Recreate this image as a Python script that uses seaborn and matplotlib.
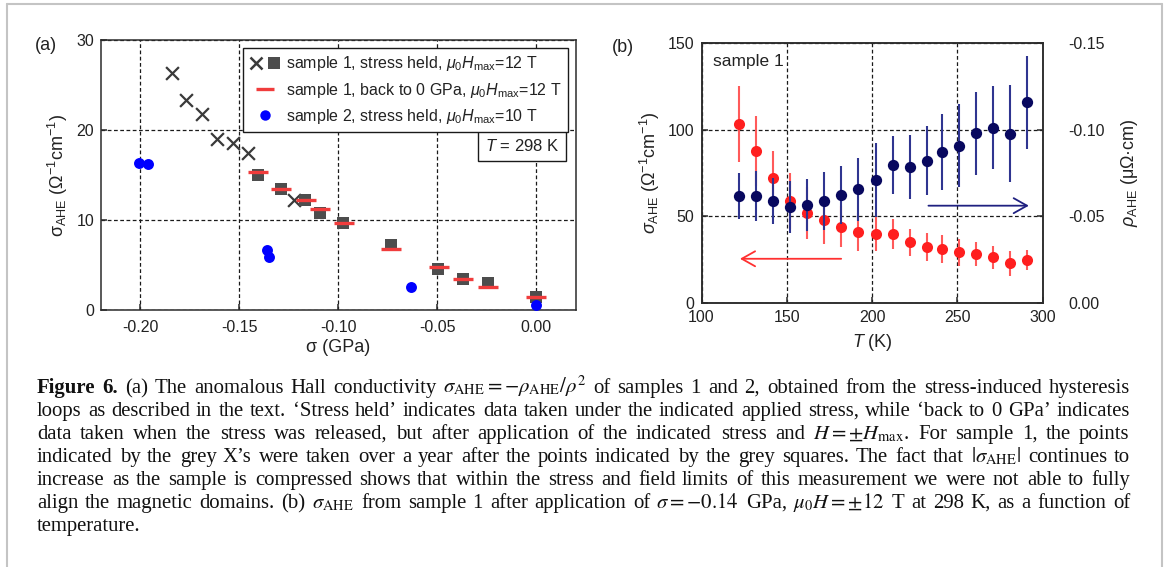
import matplotlib
matplotlib.use("Agg")
import matplotlib.pyplot as plt
import seaborn as sns
from matplotlib.lines import Line2D
from matplotlib.legend_handler import HandlerTuple

# ---- panel (a): sigma_AHE vs applied stress, T = 298 K
x_cross = [-0.184, -0.1766, -0.1687, -0.161, -0.1529, -0.1455, -0.1221]
y_cross = [26.3, 23.3, 21.8, 19.0, 18.6, 17.5, 12.2]
x_square = [-0.1406, -0.1288, -0.1168, -0.109, -0.0974, -0.0731, -0.0496, -0.0367, -0.0245, 0.0]
y_square = [15.0, 13.4, 12.2, 10.8, 9.7, 7.2, 4.6, 3.4, 3.0, 1.5]
x_back = [-0.1406, -0.1288, -0.1164, -0.109, -0.097, -0.0731, -0.0492, -0.037, -0.0245, 0.0]
y_back = [15.3, 13.4, 12.2, 11.2, 9.7, 6.8, 4.8, 3.5, 2.6, 1.5]
x_s2 = [-0.2008, -0.1962, -0.1358, -0.1349, -0.0634, 0.0]
y_s2 = [16.3, 16.2, 6.7, 5.9, 2.6, 0.55]
xticks_a = [-0.20, -0.15, -0.10, -0.05, 0.00]
xticklabels_a = ["-0.20", "-0.15", "-0.10", "-0.05", "0.00"]
legend_a = [r"sample 1, stress held, $\mu_0H_\mathrm{max}$=12 T",
            r"sample 1, back to 0 GPa, $\mu_0H_\mathrm{max}$=12 T",
            r"sample 2, stress held, $\mu_0H_\mathrm{max}$=10 T"]

# ---- panel (b): sample 1 vs temperature
temps = [122, 132, 142, 152, 162, 172, 182, 192, 202, 212, 222, 232, 241, 251, 261, 271, 281, 291]
sigma_ahe = [103.3, 87.7, 71.9, 58.8, 52.0, 47.8, 44.0, 41.0, 39.7, 39.7, 34.9, 32.4,
             31.0, 29.1, 28.1, 26.2, 22.7, 24.7]
sigma_err = [22, 20, 16, 16, 15, 14, 12, 11, 10, 8.5, 8, 8, 8, 8, 7, 6.5, 7, 6]
rho_ahe = [-0.0617, -0.0617, -0.0586, -0.0551, -0.0565, -0.0588, -0.0623, -0.0655, -0.0709,
           -0.0796, -0.0783, -0.0821, -0.0873, -0.0908, -0.0979, -0.1012, -0.0976, -0.1159]
rho_err = [0.0133, 0.0145, 0.0133, 0.015, 0.015, 0.017, 0.017, 0.018, 0.0215, 0.017,
           0.0185, 0.02, 0.022, 0.024, 0.024, 0.024, 0.028, 0.027]
rticks_b = [0.0, -0.05, -0.10, -0.15]
rticklabels_b = ["0.00", "-0.05", "-0.10", "-0.15"]

caption = [
    r"Figure 6. (a) The anomalous Hall conductivity $\sigma_{\mathrm{AHE}}=-\rho_{\mathrm{AHE}}/\rho^2$ of samples 1 and 2, obtained from the stress-induced hysteresis",
    "loops as described in the text. \u2018Stress held\u2019 indicates data taken under the indicated applied stress, while \u2018back to 0 GPa\u2019 indicates",
    r"data taken when the stress was released, but after application of the indicated stress and $H=\pm{H}_{\mathrm{max}}$. For sample 1, the points",
    "indicated by the grey X\u2019s were taken over a year after the points indicated by the grey squares. The fact that $|\\sigma_{\\mathrm{AHE}}|$ continues to",
    "increase as the sample is compressed shows that within the stress and field limits of this measurement we were not able to fully",
    r"align the magnetic domains. (b) $\sigma_{\mathrm{AHE}}$ from sample 1 after application of $\sigma=-0.14$ GPa, $\mu_0H=\pm12$ T at 298 K, as a function of",
    "temperature.",
]

sns.set_theme(style="white")
plt.rcParams.update({
    "font.family": ["Liberation Sans", "DejaVu Sans"],
    "mathtext.fontset": "custom",
    "mathtext.rm": "Liberation Sans",
    "mathtext.it": "Liberation Sans:italic",
    "mathtext.bf": "Liberation Sans:bold",
    "axes.unicode_minus": False,
    "axes.edgecolor": "#2b2b2b",
    "axes.linewidth": 1.1,
    "xtick.bottom": True, "ytick.left": True,
    "xtick.direction": "in", "ytick.direction": "in",
    "xtick.color": "#2b2b2b", "ytick.color": "#2b2b2b",
    "xtick.labelcolor": "#222222", "ytick.labelcolor": "#222222",
    "xtick.major.size": 4, "ytick.major.size": 4,
    "xtick.major.width": 1.1, "ytick.major.width": 1.1,
    "text.color": "#222222", "axes.labelcolor": "#222222",
})

W, H = 1167, 567
fig = plt.figure(figsize=(W / 100, H / 100), dpi=100)
fig.patch.set_facecolor("white")
axa = fig.add_axes([100.5 / W, 1 - 310 / H, 475.1 / W, 270 / H])
axb = fig.add_axes([701.5 / W, 1 - 302.7 / H, 341.2 / W, 259.4 / H])

grid_kw = dict(color="#1a1a1a", lw=0.9, ls=(0, (3, 2)))
gray_x, gray_s, red_a, blue_a = "#3a3a3a", "#4d4d4d", "#f03c3c", "#0000ff"

# ---------------- (a)
sns.scatterplot(x=x_cross, y=y_cross, ax=axa, marker="x", s=85, color=gray_x, linewidth=1.6, zorder=3)
sns.scatterplot(x=x_square, y=y_square, ax=axa, marker="s", s=75, color=gray_s, linewidth=0, zorder=3)
sns.scatterplot(x=x_back, y=y_back, ax=axa, marker="_", s=190, color=red_a, linewidth=2.4, zorder=4)
sns.scatterplot(x=x_s2, y=y_s2, ax=axa, marker="o", s=62, color=blue_a, linewidth=0, zorder=5)
axa.set_xlim(-0.22, 0.02)
axa.set_ylim(0, 30)
axa.set_xticks(xticks_a)
axa.set_xticklabels(xticklabels_a)
axa.set_yticks([0, 10, 20, 30])
axa.grid(True, **grid_kw)
axa.tick_params(axis="x", labelsize=11.5, pad=7)
axa.tick_params(axis="y", labelsize=11.5, pad=4.5)
axa.set_xlabel("σ (GPa)", fontsize=13, labelpad=3)
axa.set_ylabel(r"σ$_\mathrm{AHE}$ (Ω$^{-1}$cm$^{-1}$)", fontsize=13, labelpad=5)

h1 = (Line2D([], [], marker="x", ls="none", color=gray_x, markersize=8.5, mew=1.8),
      Line2D([], [], marker="s", ls="none", color=gray_s, markersize=8.4, mew=0))
h2 = Line2D([], [], marker="_", ls="none", color=red_a, markersize=13, mew=2.4)
h3 = Line2D([], [], marker="o", ls="none", color=blue_a, markersize=7.5, mew=0)
leg = axa.legend([h1, h2, h3], legend_a, loc="upper right", fontsize=11.5,
                 handler_map={tuple: HandlerTuple(ndivide=None, pad=0.3)},
                 frameon=True, fancybox=False, edgecolor="#1a1a1a", framealpha=1,
                 borderaxespad=0.5, borderpad=0.4, handlelength=1.9,
                 handletextpad=0.35, labelspacing=0.45)
leg.get_frame().set_linewidth(1.0)
leg.set_zorder(10)
axa.text(0.966, 0.607, r"$T$ = 298 K", transform=axa.transAxes, ha="right", va="center",
         fontsize=12, zorder=10,
         bbox=dict(boxstyle="square,pad=0.4", fc="white", ec="#1a1a1a", lw=1.0))

# ---------------- (b)
red_b, red_e = "#ff1f1f", "#ff5a5a"
navy_b, navy_e = "#08085f", "#2f3590"
axb.errorbar(temps, sigma_ahe, yerr=sigma_err, fmt="none", ecolor=red_e, elinewidth=1.5, capsize=0, zorder=2)
sns.scatterplot(x=temps, y=sigma_ahe, ax=axb, marker="o", s=64, color=red_b, linewidth=0, zorder=3)
axb.set_xlim(100, 300)
axb.set_ylim(0, 150)
axb.set_xticks([100, 150, 200, 250, 300])
axb.set_yticks([0, 50, 100, 150])
axb.grid(True, **grid_kw)
axb.tick_params(axis="x", labelsize=11.5, pad=5.5)
axb.tick_params(axis="y", labelsize=11.5, pad=5)
axb.set_xlabel(r"$T$ (K)", fontsize=13, labelpad=5)
axb.set_ylabel(r"$\sigma_\mathrm{AHE}$ (Ω$^{-1}$cm$^{-1}$)", fontsize=13, labelpad=4)
axb.annotate("", xy=(120.9, 25.4), xytext=(183.5, 25.4),
             arrowprops=dict(arrowstyle="->,head_length=0.8,head_width=0.45", color="#ff3030", lw=1.3))
axb.text(0.035, 0.93, "sample 1", transform=axb.transAxes, ha="left", va="center", fontsize=12.5)

axr = axb.twinx()
axr.errorbar(temps, rho_ahe, yerr=rho_err, fmt="none", ecolor=navy_e, elinewidth=1.5, capsize=0, zorder=2)
sns.scatterplot(x=temps, y=rho_ahe, ax=axr, marker="o", s=66, color=navy_b, linewidth=0, zorder=3)
axr.set_ylim(0, -0.15)
axr.set_yticks(rticks_b)
axr.set_yticklabels(rticklabels_b)
axr.grid(False)
axr.tick_params(axis="y", right=True, direction="in", labelsize=11.5, pad=18.5)
axr.set_ylabel(r"$\rho_\mathrm{AHE}$ (μΩ·cm)", fontsize=13, labelpad=10)
axr.annotate("", xy=(293.5, -0.0561), xytext=(231.4, -0.0561),
             arrowprops=dict(arrowstyle="->,head_length=0.8,head_width=0.45", color="#1f2080", lw=1.3))

fig.text(46 / W, 1 - 45 / H, "(a)", ha="center", va="center", fontsize=13)
fig.text(623 / W, 1 - 48 / H, "(b)", ha="center", va="center", fontsize=13)

# page border
bc = "#c4c4c4"
fig.add_artist(Line2D([7 / W, 7 / W], [0, 1 - 4 / H], transform=fig.transFigure, color=bc, lw=1.5))
fig.add_artist(Line2D([7 / W, 1162 / W], [1 - 4 / H, 1 - 4 / H], transform=fig.transFigure, color=bc, lw=1.5))
fig.add_artist(Line2D([1162 / W, 1162 / W], [0, 1 - 4 / H], transform=fig.transFigure, color=bc, lw=1.5))

# caption, justified between x0 and x1
x0, x1, y0, dy = 37, 1130, 393, 23
r = fig.canvas.get_renderer()
cap_kw = dict(family="Liberation Serif", math_fontfamily="stix", color="#111111")


def word_width(word, size, bold):
    t = fig.text(0, 0, word, fontsize=size, fontweight="bold" if bold else "normal", **cap_kw)
    w = t.get_window_extent(renderer=r).width
    t.remove()
    return w


base = 12.0
nat = []
for i, line in enumerate(caption[:-1]):
    words = line.split(" ")
    ws = [word_width(w, base, i == 0 and j < 2) for j, w in enumerate(words)]
    nat.append(sum(ws) + 0.25 * base * 100 / 72 * (len(words) - 1))
size = base * (x1 - x0) * 0.985 / max(nat)

for i, line in enumerate(caption):
    words = line.split(" ")
    bolds = [i == 0 and j < 2 for j in range(len(words))]
    ws = [word_width(w, size, b) for w, b in zip(words, bolds)]
    if i < len(caption) - 1:
        gap = (x1 - x0 - sum(ws)) / (len(words) - 1)
    else:
        gap = 0.25 * size * 100 / 72
    x = x0
    for w, b, wd in zip(words, bolds, ws):
        fig.text(round(x) / W, 1 - (y0 + i * dy) / H, w, fontsize=size, va="baseline", ha="left",
                 fontweight="bold" if b else "normal", **cap_kw)
        x += wd + gap

fig.savefig("out.png", dpi=100, facecolor="white")
